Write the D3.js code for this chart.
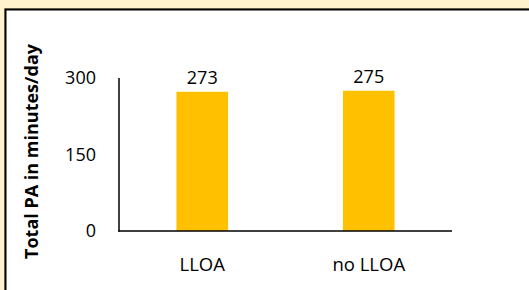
<!DOCTYPE html>
<html>
<head>
<meta charset="utf-8">
<script src="https://cdn.jsdelivr.net/npm/d3@7"></script>
<style>
  body { margin: 0; background: #fff2cc; }
  svg { display: block; }
</style>
</head>
<body>
<svg class="chart" width="529" height="290"></svg>
<script>
const categories = ["LLOA", "no LLOA"];
const values = [273, 275];
const yTicks = [0, 150, 300];

const svg = d3.select('svg.chart');
const width = 529, height = 290;
const margin = {left: 119, right: 77, top: 78, bottom: 59};

// cream background + white panel with dark left/top edges
svg.append('rect').attr('width', width).attr('height', height).style('fill', '#fff2cc');
svg.append('rect').attr('x', 4).attr('y', 8).attr('width', width).attr('height', height)
   .style('fill', '#c9b98a');
svg.append('rect').attr('x', 4.5).attr('y', 8.5).attr('width', width).attr('height', height)
   .style('fill', '#000');
svg.append('rect').attr('x', 6.5).attr('y', 10.5).attr('width', width).attr('height', height)
   .style('fill', '#fff');

const x = d3.scaleBand()
            .domain(categories)
            .range([margin.left, width - margin.right])
            .paddingInner(0.69)
            .paddingOuter(0.345);

const y = d3.scaleLinear()
            .domain([0, 300])
            .range([height - margin.bottom, margin.top]);

const font = "'Open Sans', sans-serif";

svg.selectAll('rect.bar')
   .data(values)
   .enter()
   .append('rect')
   .attr('class', 'bar')
   .attr('x', (d, i) => x(categories[i]))
   .attr('width', x.bandwidth())
   .attr('y', d => y(d))
   .attr('height', d => y(0) - y(d))
   .style('fill', '#ffc000');

// value labels
svg.selectAll('text.val')
   .data(values)
   .enter()
   .append('text')
   .attr('class', 'val')
   .attr('x', (d, i) => x(categories[i]) + x.bandwidth() / 2)
   .attr('y', d => y(d) - 8)
   .text(d => d)
   .style('font-family', font)
   .style('font-size', '18px')
   .style('text-anchor', 'middle')
   .style('fill', '#000');

// axes lines
svg.append('line')
   .attr('x1', margin.left).attr('x2', margin.left)
   .attr('y1', y(300)).attr('y2', y(0) + 0.8)
   .style('stroke', '#000').style('stroke-width', '1.5px');
svg.append('line')
   .attr('x1', margin.left - 0.75).attr('x2', width - margin.right)
   .attr('y1', y(0)).attr('y2', y(0))
   .style('stroke', '#000').style('stroke-width', '1.5px');

// y tick labels
svg.selectAll('text.ytick')
   .data(yTicks)
   .enter()
   .append('text')
   .attr('class', 'ytick')
   .attr('x', 96)
   .attr('y', d => y(d))
   .attr('dy', '0.36em')
   .text(d => d)
   .style('font-family', font)
   .style('font-size', '18px')
   .style('text-anchor', 'end');

// x category labels
svg.selectAll('text.xcat')
   .data(categories)
   .enter()
   .append('text')
   .attr('class', 'xcat')
   .attr('x', d => x(d) + x.bandwidth() / 2)
   .attr('y', 271)
   .text(d => d)
   .style('font-family', font)
   .style('font-size', '18.5px')
   .style('text-anchor', 'middle');

// y axis title
svg.append('text')
   .attr('transform', `translate(38, ${(45 + 258) / 2}) rotate(-90)`)
   .text('Total PA in minutes/day')
   .style('font-family', font)
   .style('font-weight', 'bold')
   .style('font-size', '18px')
   .style('text-anchor', 'middle');
</script>
</body>
</html>
